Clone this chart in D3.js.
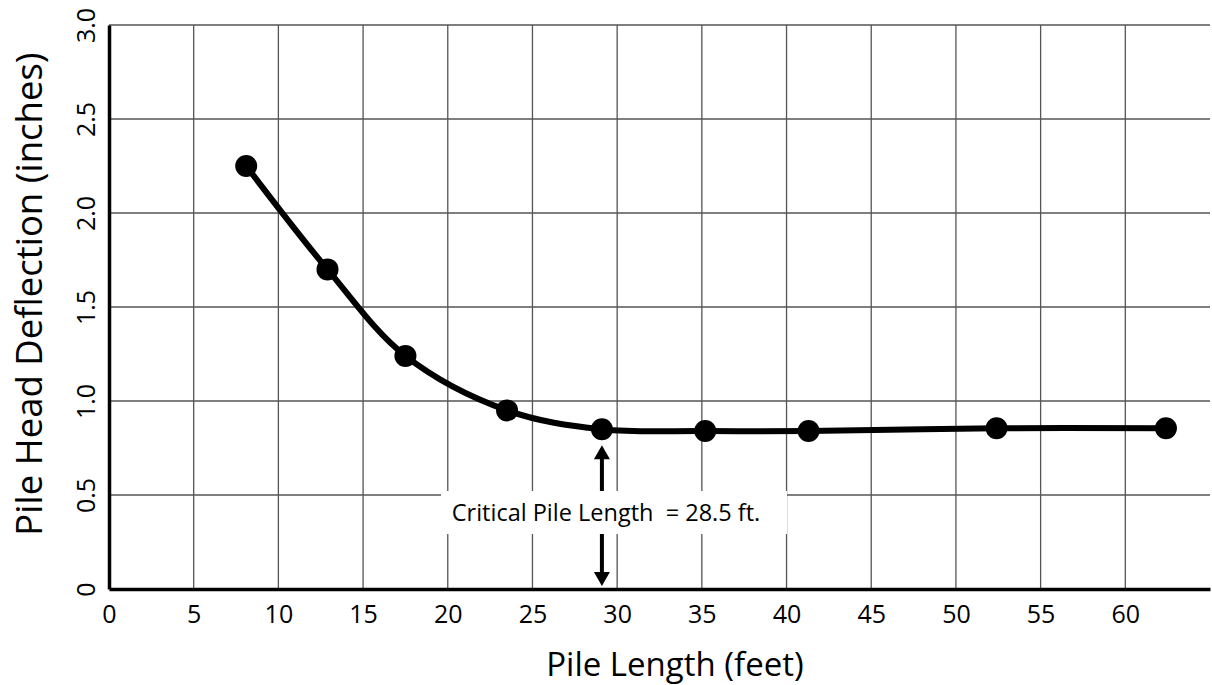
<!DOCTYPE html>
<html>
<head>
<meta charset="utf-8">
<script src="https://cdn.jsdelivr.net/npm/d3@7"></script>
<style>
  body { margin: 0; background: #fff; }
  svg { display: block; font-family: "Open Sans", sans-serif; }
</style>
</head>
<body>
<div id="chart"></div>
<script>
// Pile length (feet) vs pile head deflection (inches)
var pileLength = [8.1, 12.9, 17.5, 23.5, 29.1, 35.2, 41.3, 52.4, 62.4];
var deflection = [2.25, 1.70, 1.24, 0.95, 0.85, 0.84, 0.84, 0.855, 0.855];
var xTicks = [0, 5, 10, 15, 20, 25, 30, 35, 40, 45, 50, 55, 60];
var yTicks = [0, 0.5, 1.0, 1.5, 2.0, 2.5, 3.0];
var yTickLabels = ["0", "0.5", "1.0", "1.5", "2.0", "2.5", "3.0"];
var criticalIndex = 4;
var criticalLabel = "Critical Pile Length  = 28.5 ft.";

var width = 1212, height = 685;
var margin = {left: 109, right: 2, top: 25, bottom: 96};

var svg = d3.select("#chart").append("svg")
    .attr("width", width)
    .attr("height", height);

var x = d3.scaleLinear().domain([0, 65]).range([margin.left, width - margin.right]);
var y = d3.scaleLinear().domain([0, 3]).range([height - margin.bottom, margin.top]);

// grid
svg.append("g")
    .selectAll("line").data(yTicks.slice(1))
    .enter().append("line")
    .attr("x1", x(0)).attr("x2", x(65))
    .attr("y1", function(d) { return y(d); })
    .attr("y2", function(d) { return y(d); })
    .attr("stroke", "#555").attr("stroke-width", 1.3);

svg.append("g")
    .selectAll("line").data(xTicks.slice(1))
    .enter().append("line")
    .attr("x1", function(d) { return x(d); })
    .attr("x2", function(d) { return x(d); })
    .attr("y1", y(0)).attr("y2", y(3))
    .attr("stroke", "#555").attr("stroke-width", 1.3);

// axes
var xAxis = svg.append("g")
    .attr("transform", "translate(0," + y(0) + ")")
    .call(d3.axisBottom(x).tickValues(xTicks).tickSize(0).tickPadding(16));
xAxis.select(".domain").attr("stroke", "#000").attr("stroke-width", 3.5);
xAxis.selectAll("text")
    .attr("fill", "#000")
    .style("font-family", "Open Sans")
    .style("font-size", "25px");

var yAxis = svg.append("g")
    .attr("transform", "translate(" + x(0) + ",0)")
    .call(d3.axisLeft(y).tickValues(yTicks).tickSize(0)
        .tickFormat(function(d, i) { return yTickLabels[i]; }));
yAxis.select(".domain").attr("stroke", "#000").attr("stroke-width", 3.5);
yAxis.selectAll("text")
    .attr("fill", "#000")
    .style("font-family", "Open Sans")
    .style("font-size", "25px")
    .attr("text-anchor", "middle")
    .attr("x", 0).attr("y", 0)
    .attr("dy", 0)
    .attr("transform", "translate(-14,0) rotate(-90)");

// annotation (drawn before the curve)
var cx = x(pileLength[criticalIndex]);
var box = svg.append("g");
var boxTop = y(0.5) - 4, boxBottom = y(0.5) + 39;
box.append("rect")
    .attr("x", 441).attr("y", boxTop)
    .attr("width", 346).attr("height", boxBottom - boxTop)
    .attr("fill", "#fff");
box.append("text")
    .attr("x", 606).attr("y", boxTop + 30)
    .attr("text-anchor", "middle")
    .attr("font-family", "Open Sans")
    .attr("font-size", 23.5)
    .style("white-space", "pre")
    .text(criticalLabel);

function arrow(x0, yFrom, yTip) {
    var dir = yTip < yFrom ? -1 : 1;
    box.append("line")
        .attr("x1", x0).attr("x2", x0)
        .attr("y1", yFrom).attr("y2", yTip - dir * 12)
        .attr("stroke", "#000").attr("stroke-width", 4);
    box.append("path")
        .attr("d", "M" + (x0 - 8) + "," + (yTip - dir * 14) + "L" + (x0 + 8) + "," + (yTip - dir * 14) + "L" + x0 + "," + yTip + "Z")
        .attr("fill", "#000");
}
arrow(cx, boxTop, y(deflection[criticalIndex]) + 16);
arrow(cx, boxBottom, y(0) - 3);

// curve
var pts = pileLength.map(function(d, i) { return [d, deflection[i]]; });
var line = d3.line()
    .x(function(d) { return x(d[0]); })
    .y(function(d) { return y(d[1]); })
    .curve(d3.curveCatmullRom.alpha(0.5));

svg.append("path")
    .datum(pts)
    .attr("d", line)
    .attr("fill", "none")
    .attr("stroke", "#000")
    .attr("stroke-width", 6);

svg.append("g")
    .selectAll("circle").data(pts)
    .enter().append("circle")
    .attr("cx", function(d) { return x(d[0]); })
    .attr("cy", function(d) { return y(d[1]); })
    .attr("r", 11)
    .attr("fill", "#000");

// axis titles
svg.append("text")
    .attr("x", 675).attr("y", 676)
    .attr("text-anchor", "middle")
    .attr("font-family", "Open Sans")
    .attr("font-size", 33)
    .text("Pile Length (feet)");

svg.append("text")
    .attr("transform", "translate(42,294) rotate(-90)")
    .attr("text-anchor", "middle")
    .attr("font-family", "Open Sans")
    .attr("font-size", 36.5)
    .text("Pile Head Deflection (inches)");
</script>
</body>
</html>
